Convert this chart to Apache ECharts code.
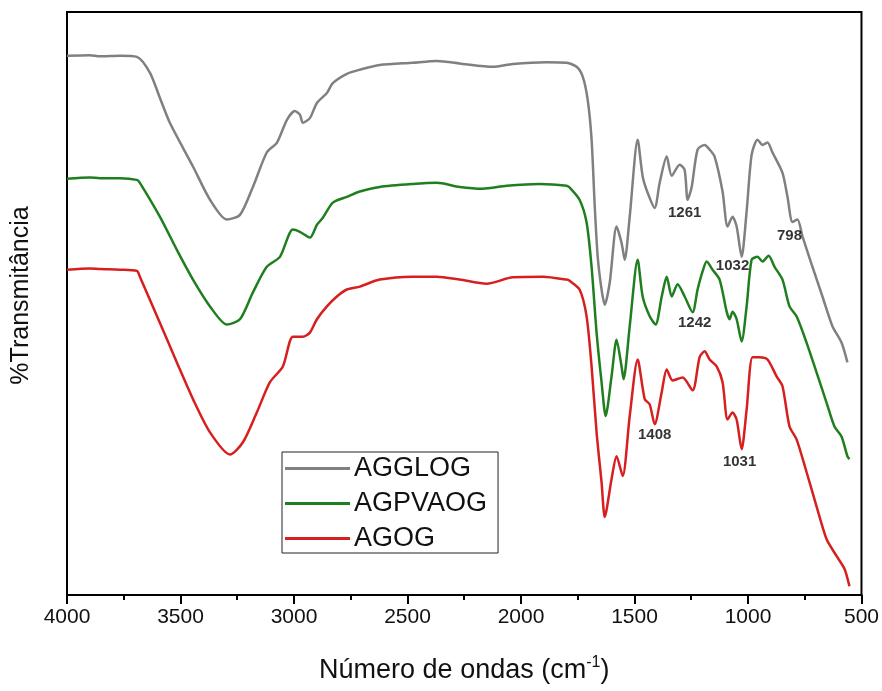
<!DOCTYPE html>
<html>
<head>
<meta charset="utf-8">
<script src="https://cdn.jsdelivr.net/npm/echarts@6/dist/echarts.min.js"></script>
<style>
html,body{margin:0;padding:0;background:#fff;}
#chart{width:882px;height:691px;}
</style>
</head>
<body>
<div id="chart"></div>
<script>
// Wavenumber (cm-1), transmittance (arbitrary units, curves offset)
var seriesNames = ['AGGLOG', 'AGPVAOG', 'AGOG'];
var xTicks = [4000, 3500, 3000, 2500, 2000, 1500, 1000, 500];

var agglog = [
  [4000,92.5],[3900,92.6],[3855,92.4],[3767,92.5],[3692,92.3],[3635,89.6],[3591,85.3],[3547,81.0],
  [3445,73.5],[3370,67.8],[3296,64.4],[3238,65.2],[3181,70.0],[3120,75.9],[3075,77.6],[3031,81.5],
  [2996,83.0],[2974,82.4],[2961,81.0],[2930,81.8],[2899,84.4],[2855,86.1],[2829,87.8],[2767,89.4],
  [2710,90.1],[2622,90.9],[2477,91.3],[2371,91.6],[2257,91.1],[2125,90.6],[2036,91.1],[1887,91.4],
  [1799,91.3],[1755,90.6],[1728,88.9],[1706,84.9],[1689,78.1],[1675,66.6],[1662,58.0],[1645,52.4],
  [1631,49.8],[1609,53.6],[1579,63.2],[1557,60.4],[1543,57.5],[1521,64.9],[1486,78.1],[1464,71.8],
  [1442,69.0],[1411,66.4],[1389,70.7],[1358,75.2],[1336,71.9],[1301,73.8],[1279,72.9],[1266,67.8],
  [1248,70.0],[1222,76.4],[1191,77.2],[1169,76.4],[1147,75.2],[1112,69.2],[1090,63.2],[1068,64.9],
  [1050,63.2],[1028,58.0],[1006,65.8],[984,75.5],[958,78.1],[936,77.2],[914,77.6],[892,75.9],
  [848,72.4],[826,68.3],[804,64.0],[782,64.4],[760,61.5],[716,56.3],[672,51.2],[628,46.1],
  [588,43.3],[562,39.9]
];
var agpvaog = [
  [4000,71.4],[3900,71.6],[3855,71.5],[3767,71.5],[3692,71.2],[3679,70.7],[3591,64.9],[3516,59.2],
  [3445,54.1],[3370,49.5],[3296,46.4],[3238,47.3],[3181,51.9],[3120,56.3],[3062,58.0],[3005,62.7],
  [2974,62.3],[2930,61.3],[2899,63.5],[2873,64.7],[2829,67.3],[2767,68.3],[2710,69.2],[2622,70.0],
  [2477,70.5],[2371,70.7],[2270,70.0],[2169,69.7],[2063,70.2],[1918,70.5],[1799,70.2],[1786,69.9],
  [1742,67.8],[1711,63.9],[1689,56.3],[1667,45.0],[1645,36.5],[1627,30.7],[1601,37.5],[1579,43.8],
  [1557,39.2],[1548,37.0],[1521,46.1],[1486,57.5],[1464,51.2],[1433,47.8],[1407,46.4],[1380,51.2],
  [1358,54.6],[1336,51.2],[1310,53.3],[1279,51.2],[1244,48.5],[1222,52.4],[1200,55.5],[1182,57.2],
  [1156,55.8],[1125,54.1],[1094,48.6],[1081,47.3],[1068,48.6],[1050,47.3],[1028,43.5],[1006,49.5],
  [984,57.5],[958,58.0],[936,57.2],[909,58.2],[883,56.3],[848,54.1],[817,49.5],[786,47.8],
  [742,43.3],[698,38.2],[654,33.0],[619,28.9],[588,27.2],[562,23.8],[553,23.3]
];
var agog = [
  [4000,55.8],[3900,56.0],[3855,55.9],[3767,55.8],[3692,55.6],[3679,54.6],[3591,46.7],[3516,39.9],
  [3445,33.6],[3370,27.9],[3282,24.1],[3225,26.2],[3164,31.3],[3106,36.5],[3049,39.2],[3005,44.3],
  [2961,44.3],[2930,45.0],[2899,47.3],[2855,49.5],[2811,51.2],[2767,52.4],[2710,52.9],[2622,54.1],
  [2477,54.6],[2371,54.6],[2270,54.1],[2151,53.4],[2036,54.5],[1904,54.6],[1799,54.1],[1786,53.9],
  [1742,52.4],[1711,47.8],[1689,39.2],[1667,27.9],[1645,19.3],[1631,13.4],[1601,19.9],[1579,23.8],
  [1552,20.4],[1521,30.7],[1486,40.4],[1455,33.6],[1433,32.7],[1411,29.3],[1380,34.8],[1358,38.7],
  [1332,36.8],[1288,37.3],[1244,35.1],[1213,40.8],[1191,41.8],[1169,40.4],[1138,39.2],[1112,36.5],
  [1090,30.1],[1068,31.3],[1050,30.1],[1028,25.0],[1006,31.8],[980,40.8],[949,40.8],[914,40.4],
  [874,37.5],[848,35.8],[817,28.9],[786,26.7],[742,21.1],[698,15.2],[654,9.6],[610,6.7],
  [575,4.5],[553,1.5]
];
// peak annotations: [wavenumber, transmittance, text]
var peakLabels = [
  [1279, 65.6, '1261'],
  [817, 61.6, '798'],
  [1068, 56.5, '1032'],
  [1235, 46.7, '1242'],
  [1411, 27.4, '1408'],
  [1037, 22.9, '1031']
];

var colors = ['#808080', '#1f7f1f', '#d61f1f'];
var FONT = '"Liberation Sans", Arial, sans-serif';

var chart = echarts.init(document.getElementById('chart'), null, {renderer: 'canvas'});
function lineSeries(name, data, color) {
  return {
    name: name, type: 'line', data: data, symbol: 'none', showSymbol: false, smooth: 0.25,
    lineStyle: {color: color, width: 2.5}, itemStyle: {color: color},
    animation: false, z: 3
  };
}
chart.setOption({
  animation: false,
  backgroundColor: '#fff',
  grid: {left: 67, top: 12, width: 795, height: 583, show: true, borderColor: '#000', borderWidth: 2, backgroundColor: 'transparent'},
  xAxis: {
    type: 'value', inverse: true, min: 500, max: 4000, interval: 500,
    name: 'Número de ondas (cm{sup|-1})', nameLocation: 'middle', nameGap: 60,
    nameTextStyle: {fontFamily: FONT, fontSize: 27, color: '#111',
      rich: {sup: {fontFamily: FONT, fontSize: 16, color: '#111', verticalAlign: 'top', padding: [0,0,15,0]}}},
    axisLine: {show: true, lineStyle: {color: '#000', width: 2}},
    axisTick: {show: true, inside: false, length: 9, lineStyle: {color: '#000', width: 2}},
    minorTick: {show: true, splitNumber: 2, length: 5, lineStyle: {color: '#000', width: 2}},
    axisLabel: {fontFamily: FONT, fontSize: 21, color: '#111', margin: 12,
      formatter: function (v) { return xTicks.indexOf(v) >= 0 ? String(v) : ''; }},
    splitLine: {show: false}
  },
  yAxis: {
    type: 'value', min: 0, max: 100,
    name: '%Transmitância', nameLocation: 'middle', nameGap: 33, nameRotate: 90,
    nameTextStyle: {fontFamily: FONT, fontSize: 25, color: '#111', padding: [0, 0, 0, 16]},
    axisLine: {show: true, lineStyle: {color: '#000', width: 2}},
    axisTick: {show: false}, axisLabel: {show: false}, splitLine: {show: false}
  },
  legend: {
    data: seriesNames, orient: 'vertical', left: 282, top: 452,
    icon: 'rect', itemWidth: 65, itemHeight: 3, itemGap: 8,
    padding: [3, 11, 1, 3],
    borderColor: '#222', borderWidth: 1, backgroundColor: '#fff',
    textStyle: {fontFamily: FONT, fontSize: 27, color: '#111', lineHeight: 24, padding: [0,0,0,-1]},
    selectedMode: false
  },
  series: [
    lineSeries(seriesNames[0], agglog, colors[0]),
    lineSeries(seriesNames[1], agpvaog, colors[1]),
    lineSeries(seriesNames[2], agog, colors[2]),
    {
      name: 'labels', type: 'scatter', data: peakLabels, symbolSize: 0, z: 5,
      label: {show: true, position: 'inside', formatter: function (p) { return p.data[2]; },
        fontFamily: FONT, fontSize: 15, fontWeight: 'bold', color: '#000'},
      tooltip: {show: false}, silent: true
    }
  ]
});
</script>
</body>
</html>
